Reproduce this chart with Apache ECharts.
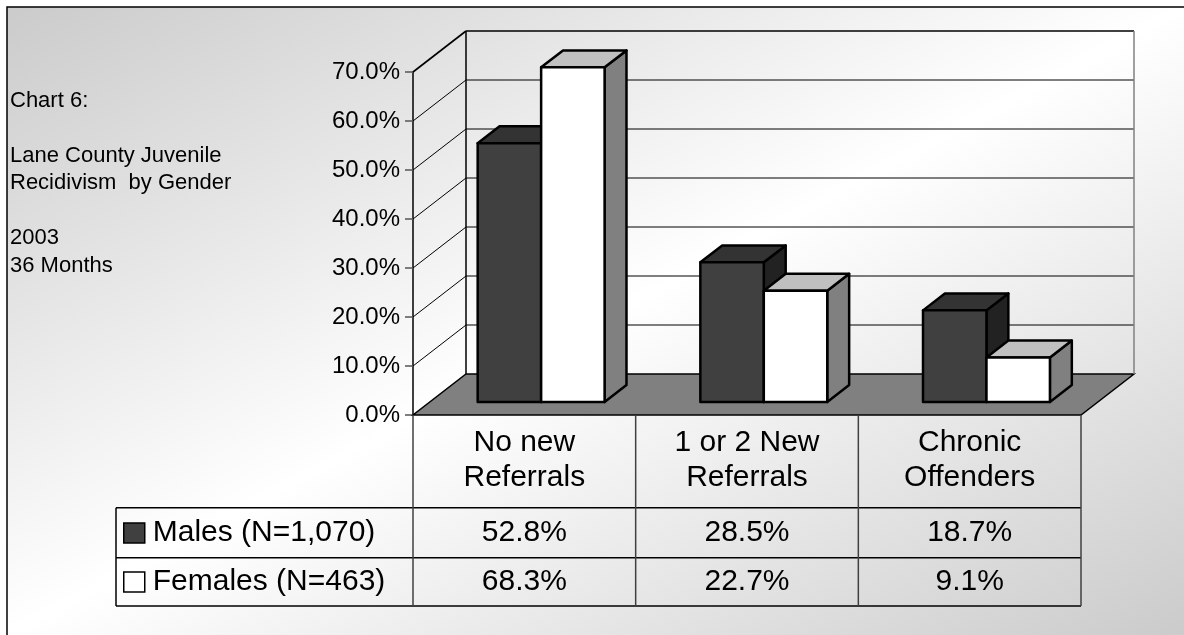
<!DOCTYPE html>
<html>
<head>
<meta charset="utf-8">
<script src="https://cdn.jsdelivr.net/npm/echarts@6/dist/echarts.min.js"></script>
<style>
  html, body { margin: 0; padding: 0; background: #fff; }
  #chart { width: 1184px; height: 635px; }
</style>
</head>
<body>
<div id="chart"></div>
<script>
// data
var categories = ['No new\nReferrals', '1 or 2 New\nReferrals', 'Chronic\nOffenders'];
var seriesNames = ['Males (N=1,070)', 'Females (N=463)'];
var males = [52.8, 28.5, 18.7];
var females = [68.3, 22.7, 9.1];
var yTicks = [0, 10, 20, 30, 40, 50, 60, 70];
var titleLines = ['Chart 6:', '', 'Lane County Juvenile', 'Recidivism  by Gender', '', '2003', '36 Months'];

// layout
var FONT = "'Liberation Sans', Arial, sans-serif";
var GRID = { left: 413, right: 103, top: 72, bottom: 220 };
var DEPTH = [53, -41];          // floor depth in px
var BAR_FRONT = 0.317, BAR_BACK = 0.73, BAR_W = 0.285;
var TABLE_LEFT = 116;
var ROW_LINES = [507.7, 557.7, 606];
var ROW_CENTERS = [532.7, 582];

var chartDom = document.getElementById('chart');
var myChart = echarts.init(chartDom);

function wallItem(params, api) {
  var cs = params.coordSys;
  var x0 = cs.x, x1 = cs.x + cs.width;
  var t = api.value(1);
  var y = api.coord([0, t])[1];
  var yZero = api.coord([0, yTicks[0]])[1];
  var dx = DEPTH[0], dy = DEPTH[1];
  var children = [];
  if (t === yTicks[0]) {
    children.push({
      type: 'polygon',
      shape: { points: [[x0, y], [x1, y], [x1 + dx, y + dy], [x0 + dx, y + dy]] },
      style: { fill: '#808080', stroke: '#000', lineWidth: 1.5 }
    });
  } else {
    var top = t === yTicks[yTicks.length - 1];
    children.push({
      type: 'line',
      shape: { x1: x0 + dx, y1: y + dy, x2: x1 + dx, y2: y + dy },
      style: { stroke: '#000', lineWidth: top ? 1.6 : 1 }
    });
    children.push({
      type: 'line',
      shape: { x1: x0, y1: y, x2: x0 + dx, y2: y + dy },
      style: { stroke: '#000', lineWidth: top ? 1.6 : 1 }
    });
    if (top) {
      children.push({
        type: 'line',
        shape: { x1: x0 + dx, y1: y + dy, x2: x0 + dx, y2: yZero + dy },
        style: { stroke: '#000', lineWidth: 1.5 }
      });
      children.push({
        type: 'line',
        shape: { x1: x1 + dx, y1: y + dy, x2: x1 + dx, y2: yZero + dy },
        style: { stroke: '#808080', lineWidth: 1.5 }
      });
    }
  }
  return { type: 'group', children: children };
}

function barRenderer(side, fills) {
  return function (params, api) {
    var i = api.value(0), v = api.value(1);
    var base = api.coord([i, 0]);
    var topPt = api.coord([i, v]);
    var w = api.size([1, 0])[0] * BAR_W;
    var ox = DEPTH[0] * BAR_FRONT, oy = DEPTH[1] * BAR_FRONT;
    var bx = DEPTH[0] * (BAR_BACK - BAR_FRONT), by = DEPTH[1] * (BAR_BACK - BAR_FRONT);
    var xl = base[0] + ox + (side === 0 ? -w : 0);
    var xr = xl + w;
    var yb = base[1] + oy, yt = topPt[1] + oy;
    var line = { stroke: '#000', lineWidth: 2.5, lineJoin: 'round' };
    return {
      type: 'group',
      children: [
        {
          type: 'polygon',
          shape: { points: [[xr, yt], [xr + bx, yt + by], [xr + bx, yb + by], [xr, yb]] },
          style: Object.assign({ fill: fills.side }, line)
        },
        {
          type: 'polygon',
          shape: { points: [[xl, yt], [xr, yt], [xr + bx, yt + by], [xl + bx, yt + by]] },
          style: Object.assign({ fill: fills.top }, line)
        },
        {
          type: 'rect',
          shape: { x: xl, y: yt, width: w, height: yb - yt },
          style: Object.assign({ fill: fills.front }, line)
        }
      ]
    };
  };
}

function cellRenderer(row) {
  return function (params, api) {
    var i = api.value(0), v = api.value(1);
    var x = api.coord([i, 0])[0];
    return {
      type: 'text',
      style: {
        text: v.toFixed(1) + '%',
        x: x, y: ROW_CENTERS[row],
        align: 'center', verticalAlign: 'middle',
        fontSize: 30, fontFamily: FONT, fill: '#000'
      }
    };
  };
}

var tableW = 1184 - GRID.right - GRID.left;
var tableLines = [];
ROW_LINES.forEach(function (y) {
  tableLines.push({
    type: 'line', z: 5,
    shape: { x1: TABLE_LEFT, y1: y, x2: GRID.left + tableW, y2: y },
    style: { stroke: '#000', lineWidth: 1.5 }
  });
});
tableLines.push({
  type: 'line', z: 5,
  shape: { x1: TABLE_LEFT, y1: ROW_LINES[0], x2: TABLE_LEFT, y2: ROW_LINES[2] },
  style: { stroke: '#000', lineWidth: 1.5 }
});
for (var k = 0; k <= categories.length; k++) {
  var cx = GRID.left + tableW * k / categories.length;
  tableLines.push({
    type: 'line', z: 5,
    shape: { x1: cx, y1: 635 - GRID.bottom, x2: cx, y2: ROW_LINES[2] },
    style: { stroke: '#404040', lineWidth: 1.5 }
  });
}

var option = {
  animation: false,
  backgroundColor: '#fff',
  title: {
    text: titleLines.join('\n'),
    left: 10,
    top: 87,
    padding: 0,
    textStyle: { fontSize: 22, fontWeight: 'normal', fontFamily: FONT, lineHeight: 27.5, color: '#000' }
  },
  legend: [
    {
      data: [seriesNames[0]], left: 123, top: 518, padding: 0, selectedMode: false,
      icon: 'rect', itemWidth: 21, itemHeight: 20,
      itemStyle: { borderColor: '#000', borderWidth: 1.5 },
      textStyle: { fontSize: 30, fontFamily: FONT, color: '#000', padding: [0, 0, 0, 3] }
    },
    {
      data: [seriesNames[1]], left: 123, top: 567, padding: 0, selectedMode: false,
      icon: 'rect', itemWidth: 21, itemHeight: 20,
      itemStyle: { borderColor: '#000', borderWidth: 1.5 },
      textStyle: { fontSize: 30, fontFamily: FONT, color: '#000', padding: [0, 0, 0, 3] }
    }
  ],
  grid: {
    left: GRID.left, right: GRID.right, top: GRID.top, bottom: GRID.bottom,
    outerBoundsMode: 'none'
  },
  xAxis: {
    type: 'category',
    data: categories,
    axisLine: { show: false },
    axisTick: { show: false },
    axisLabel: { interval: 0, fontSize: 30, lineHeight: 35, margin: 10, color: '#000', fontFamily: FONT }
  },
  yAxis: {
    type: 'value',
    min: 0, max: 70, interval: 10,
    axisLine: { show: true, lineStyle: { color: '#000', width: 1.5 } },
    axisTick: { show: true, length: 8, lineStyle: { color: '#555', width: 1.5 } },
    splitLine: { show: false },
    axisLabel: {
      fontSize: 24, margin: 13, color: '#000', fontFamily: FONT,
      formatter: function (v) { return v.toFixed(1) + '%'; }
    }
  },
  graphic: [
    {
      type: 'rect', z: -10, silent: true,
      shape: { x: 7, y: 7, width: 1210, height: 660 },
      style: {
        stroke: '#000', lineWidth: 1.5,
        fill: new echarts.graphic.LinearGradient(7, 7, 528, 985, [
          { offset: 0, color: '#cbcbcb' },
          { offset: 0.5, color: '#ffffff' },
          { offset: 1, color: '#cbcbcb' }
        ], true)
      }
    }
  ].concat(tableLines),
  series: [
    {
      name: 'walls', type: 'custom', clip: false, silent: true, z: 1,
      encode: { x: 0, y: 1 },
      renderItem: wallItem,
      data: yTicks.map(function (t) { return [0, t]; })
    },
    {
      name: seriesNames[0], type: 'custom', clip: false, z: 3,
      color: '#404040', itemStyle: { color: '#404040' },
      encode: { x: 0, y: 1 },
      renderItem: barRenderer(0, { front: '#404040', top: '#333333', side: '#222222' }),
      data: males.map(function (v, i) { return [i, v]; })
    },
    {
      name: seriesNames[1], type: 'custom', clip: false, z: 3,
      color: '#ffffff', itemStyle: { color: '#ffffff' },
      encode: { x: 0, y: 1 },
      renderItem: barRenderer(1, { front: '#ffffff', top: '#c0c0c0', side: '#808080' }),
      data: females.map(function (v, i) { return [i, v]; })
    },
    {
      name: 'cellsMales', type: 'custom', clip: false, silent: true, z: 4,
      encode: { x: 0, y: 1 },
      renderItem: cellRenderer(0),
      data: males.map(function (v, i) { return [i, v]; })
    },
    {
      name: 'cellsFemales', type: 'custom', clip: false, silent: true, z: 4,
      encode: { x: 0, y: 1 },
      renderItem: cellRenderer(1),
      data: females.map(function (v, i) { return [i, v]; })
    }
  ]
};
myChart.setOption(option);
</script>
</body>
</html>
